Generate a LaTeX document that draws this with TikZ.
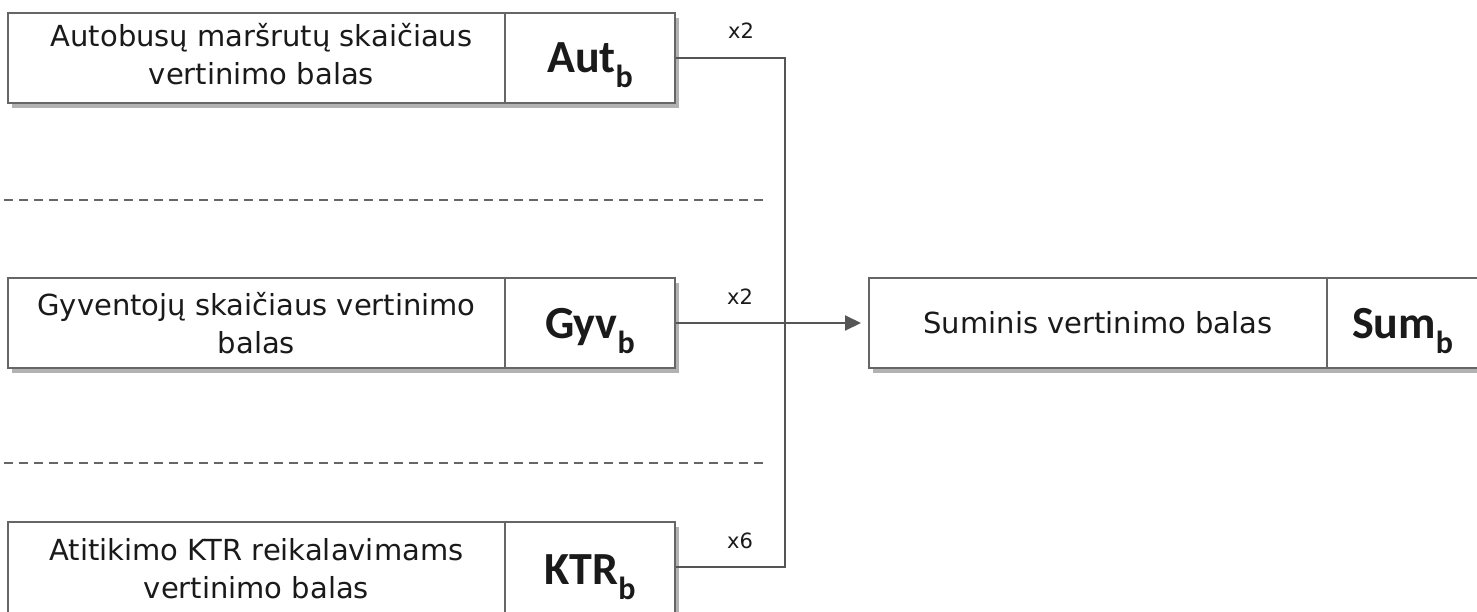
\documentclass[tikz,border=0pt]{standalone}
\usepackage{fontspec}
\setmainfont{DejaVu Sans}
\newfontfamily\lblfont{Carlito}
\usetikzlibrary{shadows,arrows.meta}
\definecolor{edge}{HTML}{666666}
\definecolor{wire}{HTML}{555555}
\definecolor{ink}{HTML}{1A1A1A}
\newcommand{\mylbl}[2]{{\lblfont\bfseries\fontsize{46pt}{46pt}\selectfont #1\raisebox{-15pt}{\fontsize{32pt}{32pt}\selectfont #2}}}
\tikzset{
  part/.style={draw=edge, line width=2pt, fill=white, minimum height=90pt, inner sep=0pt,
    text=ink, font=\fontsize{29pt}{38pt}\selectfont, align=center},
  lblpart/.style={part, text depth=0pt},
  shadowed/.style={drop shadow={shadow xshift=4pt, shadow yshift=-5pt, opacity=0.3, fill=black}},
  conn/.style={draw=wire, line width=2pt},
  weight/.style={font=\fontsize{21pt}{21pt}\selectfont, text=ink, inner sep=0pt},
  sep/.style={draw=edge, line width=2.5pt, dash pattern=on 9pt off 6pt},
}
\begin{document}
\begin{tikzpicture}[x=1pt,y=-1pt]
\useasboundingbox (0,0) rectangle (1477,611);
\clip (0,0) rectangle (1477,611);
\fill[white] (0,0) rectangle (1477,611);

% separators
\coordinate (s1a) at (4,200);
\coordinate (s1b) at (765,200);
\coordinate (s2a) at (4,463);
\coordinate (s2b) at (765,463);
\draw[sep] (s1a) -- (s1b);
\draw[sep] (s2a) -- (s2b);

% boxes
\node[part, shadowed, minimum width=497pt] (autt) at (256.5,58) {\hspace*{10pt}\begin{tabular}{@{}c@{}}Autobusų maršrutų skaičiaus\\[-0.5pt]vertinimo balas\end{tabular}};
\node[lblpart, shadowed, minimum width=170pt] (autl) at (590,58) {\mylbl{Aut}{b}};

\node[part, shadowed, minimum width=497pt] (gyvt) at (256.5,323) {Gyventojų skaičiaus vertinimo\\balas};
\node[lblpart, shadowed, minimum width=170pt] (gyvl) at (590,323) {\mylbl{Gyv}{b}};

\node[part, shadowed, minimum width=497pt, minimum height=100pt] (ktrt) at (256.5,572) {\raisebox{5pt}{\begin{tabular}{@{}c@{}}Atitikimo KTR reikalavimams\\[-0.5pt]vertinimo balas\end{tabular}}};
\node[lblpart, shadowed, minimum width=170pt, minimum height=100pt] (ktrl) at (590,572) {\raisebox{5pt}{\mylbl{KTR}{b}}};

\node[part, shadowed, minimum width=458pt] (sumt) at (1098,323) {Suminis vertinimo balas};
\node[lblpart, shadowed, minimum width=200pt, text width=150pt, align=left] (suml) at (1427,323) {\mylbl{Sum}{b}};

% connectors
\coordinate (jb) at (785,567);
\draw[conn] (autl.east) -| (jb) -- (jb -| ktrl.east);
\draw[conn, -{Triangle[length=16pt,width=15pt]}, shorten >=7pt] (gyvl.east) -- (sumt.west);

% weights
\node[weight] (w1) at (741,31) {x2};
\node[weight] (w2) at (740,297) {x2};
\node[weight] (w3) at (740,541) {x6};
\end{tikzpicture}
\end{document}
